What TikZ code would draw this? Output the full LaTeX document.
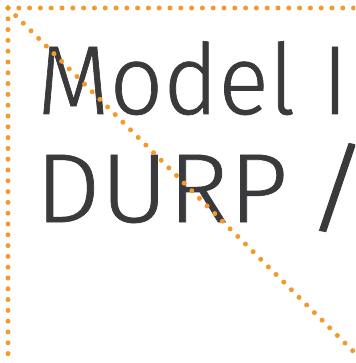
\documentclass[tikz,border=0pt]{standalone}
\usepackage{fontspec}
\setmainfont{Fira Sans}[UprightFont={* Light}, UprightFeatures={FakeBold=0.7}]
\definecolor{dotorange}{HTML}{F39A2C}
\definecolor{textgray}{HTML}{3A3A3C}
\tikzset{
  dotline/.style={dotorange, line width=5pt, line cap=round, dash pattern=on 0pt off 10.8pt},
  bigtext/.style={inner sep=0pt, anchor=base west, text=textgray, font=\fontsize{98}{98}\selectfont}
}
\begin{document}
\begin{tikzpicture}[x=1pt,y=-1pt]
\useasboundingbox (0,0) rectangle (355,363);
\clip (0,0) rectangle (355,363);
\fill[white] (0,0) rectangle (355,363);
\node[bigtext, xscale=0.96] (line1) at (37,114) {Model In};
\node[bigtext, xscale=1.055] (line2) at (35,222) {DURP};
\node[bigtext, xscale=1.3] (slash) at (304,222) {/};
\coordinate (c) at (8,8);
\coordinate (tr) at (360,8);
\coordinate (bl) at (8,354);
\coordinate (br) at (356,354);
\draw[dotline] (c) -- (tr);
\draw[dotline] (c) -- (bl);
\draw[dotline] (c) -- (br);
\end{tikzpicture}
\end{document}
